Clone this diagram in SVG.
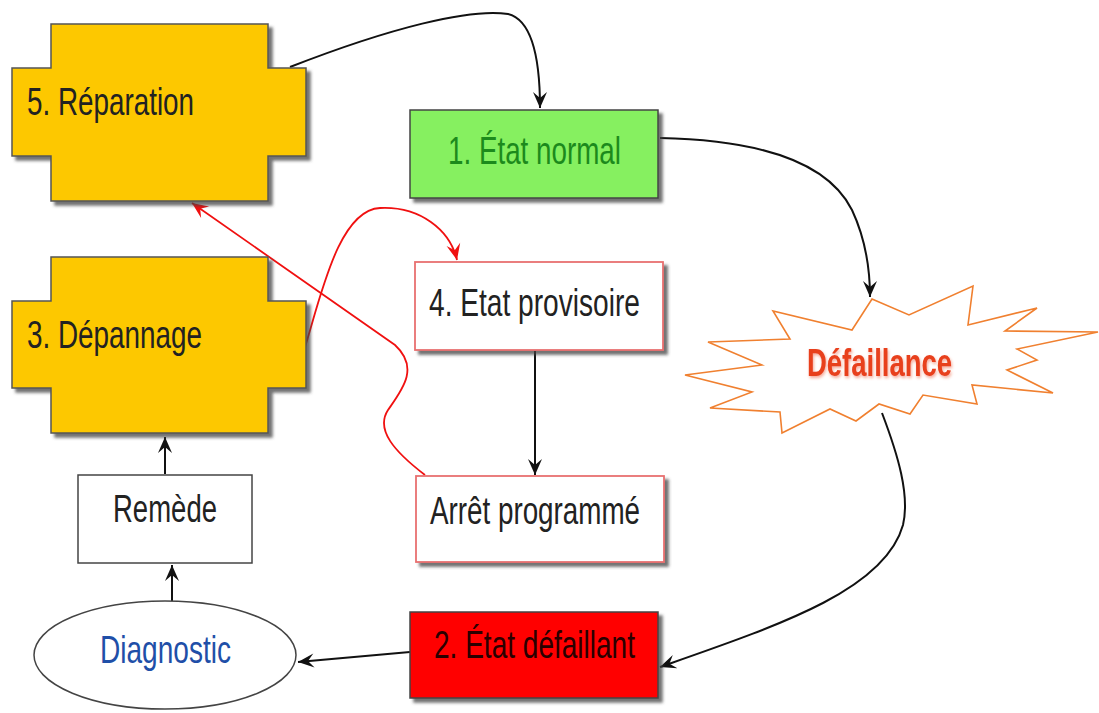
<svg xmlns="http://www.w3.org/2000/svg" width="1099" height="713" viewBox="0 0 1099 713">
  <defs>
    <filter id="shadow" x="-10%" y="-10%" width="130%" height="130%">
      <feDropShadow dx="4" dy="4" stdDeviation="1.5" flood-color="#444" flood-opacity="0.75"/>
    </filter>
    <filter id="glow" x="-10%" y="-20%" width="120%" height="140%">
      <feGaussianBlur in="SourceAlpha" stdDeviation="1.5"/>
      <feOffset dx="1" dy="2" result="b"/>
      <feFlood flood-color="#e8401e" flood-opacity="0.45"/>
      <feComposite in2="b" operator="in"/>
      <feMerge><feMergeNode/><feMergeNode in="SourceGraphic"/></feMerge>
    </filter>
    <marker id="ah" viewBox="-17 -8 19 16" refX="0" refY="0" markerWidth="19" markerHeight="16" markerUnits="userSpaceOnUse" orient="auto">
      <path d="M0,0 L-16,-7 L-10,0 L-16,7 Z" fill="#111"/>
    </marker>
    <marker id="ahr" viewBox="-17 -8 19 16" refX="0" refY="0" markerWidth="19" markerHeight="16" markerUnits="userSpaceOnUse" orient="auto">
      <path d="M0,0 L-16,-7 L-10,0 L-16,7 Z" fill="#f01010"/>
    </marker>
  </defs>
  <style>
    text { font-family: "Liberation Sans", Arial, sans-serif; font-size: 39px; }
    .cross { fill: #fdc800; stroke: #555; stroke-width: 1.5; }
    .pink { fill: #ffffff; stroke: #e87070; stroke-width: 1.8; }
    .link { fill: none; stroke: #111; stroke-width: 2; marker-end: url(#ah); }
    .red { fill: none; stroke: #f01010; stroke-width: 1.8; marker-end: url(#ahr); }
  </style>

  <rect width="1099" height="713" fill="#ffffff"/>

  <!-- connectors -->
  <g id="connectors">
    <path class="link" d="M290,67 C390,28 470,8 508,14 C532,20 540,60 540,108"/>
    <path class="link" d="M660,138 C760,140 828,162 852,210 C866,240 870,268 870,297"/>
    <path class="link" d="M882,413 C898,455 910,495 903,525 C885,590 780,625 660,667"/>
    <path class="link" d="M410,652 L298,662"/>
    <path class="link" d="M172,601 L172,565"/>
    <path class="link" d="M165,474 L165,437"/>
    <path class="link" d="M535,351 L535,475"/>
    <path class="red" d="M305,347 C320,300 338,210 380,208 C420,206 450,230 457,260"/>
    <path class="red" d="M425,475 C395,452 375,430 388,410 C402,390 420,368 395,345 L192,203"/>
  </g>

  <g id="reparation">
    <path class="cross" filter="url(#shadow)" d="M51,24 H268 V68 H306 V156 H268 V201 H51 V156 H12 V68 H51 Z"/>
    <text x="27" y="115" fill="#222" textLength="167" lengthAdjust="spacingAndGlyphs">5. Réparation</text>
  </g>

  <g id="depannage">
    <path class="cross" filter="url(#shadow)" d="M51,257 H268 V301 H306 V388 H268 V433 H51 V388 H12 V301 H51 Z"/>
    <text x="27" y="348" fill="#222" textLength="175" lengthAdjust="spacingAndGlyphs">3. Dépannage</text>
  </g>

  <g id="etat-normal">
    <rect x="410" y="110" width="248" height="88" fill="#86f061" stroke="#444" stroke-width="1.5" filter="url(#shadow)"/>
    <text x="448" y="164" fill="#1c8a1c" textLength="173" lengthAdjust="spacingAndGlyphs">1. État normal</text>
  </g>

  <g id="etat-provisoire">
    <rect class="pink" x="415" y="262" width="248" height="88" filter="url(#shadow)"/>
    <text x="429" y="316" fill="#222" textLength="211" lengthAdjust="spacingAndGlyphs">4. Etat provisoire</text>
  </g>

  <g id="arret-programme">
    <rect class="pink" x="416" y="476" width="248" height="86" filter="url(#shadow)"/>
    <text x="430" y="524" fill="#222" textLength="210" lengthAdjust="spacingAndGlyphs">Arrêt programmé</text>
  </g>

  <g id="defaillance">
    <polygon points="872,299 909,315 973,286 968,325 1037,308 1005,331 1098,332 1017,349 1037,360 1007,370 1053,393 972,385 977,404 923,395 910,414 879,404 856,421 830,409 782,433 780,412 710,408 752,392 685,375 762,365 708,342 790,339 773,311 852,330" fill="#ffffff" stroke="#f08030" stroke-width="1.6" stroke-linejoin="miter"/>
    <text x="807" y="376" fill="#e8401e" font-weight="bold" font-size="36" textLength="145" lengthAdjust="spacingAndGlyphs" filter="url(#glow)">Défaillance</text>
  </g>

  <g id="etat-defaillant">
    <rect x="410" y="612" width="248" height="86" fill="#ff0000" stroke="#444" stroke-width="1.5" filter="url(#shadow)"/>
    <text x="434" y="658" fill="#2a0000" textLength="201" lengthAdjust="spacingAndGlyphs">2. État défaillant</text>
  </g>

  <g id="remede">
    <rect x="78" y="475" width="174" height="88" fill="#ffffff" stroke="#444" stroke-width="1.5"/>
    <text x="113" y="522" fill="#222" font-size="37" textLength="104" lengthAdjust="spacingAndGlyphs">Remède</text>
  </g>

  <g id="diagnostic">
    <ellipse cx="165" cy="655" rx="131" ry="54" fill="#ffffff" stroke="#444" stroke-width="1.5"/>
    <text x="100" y="663" fill="#1f4fa8" font-size="37" textLength="131" lengthAdjust="spacingAndGlyphs">Diagnostic</text>
  </g>
</svg>
